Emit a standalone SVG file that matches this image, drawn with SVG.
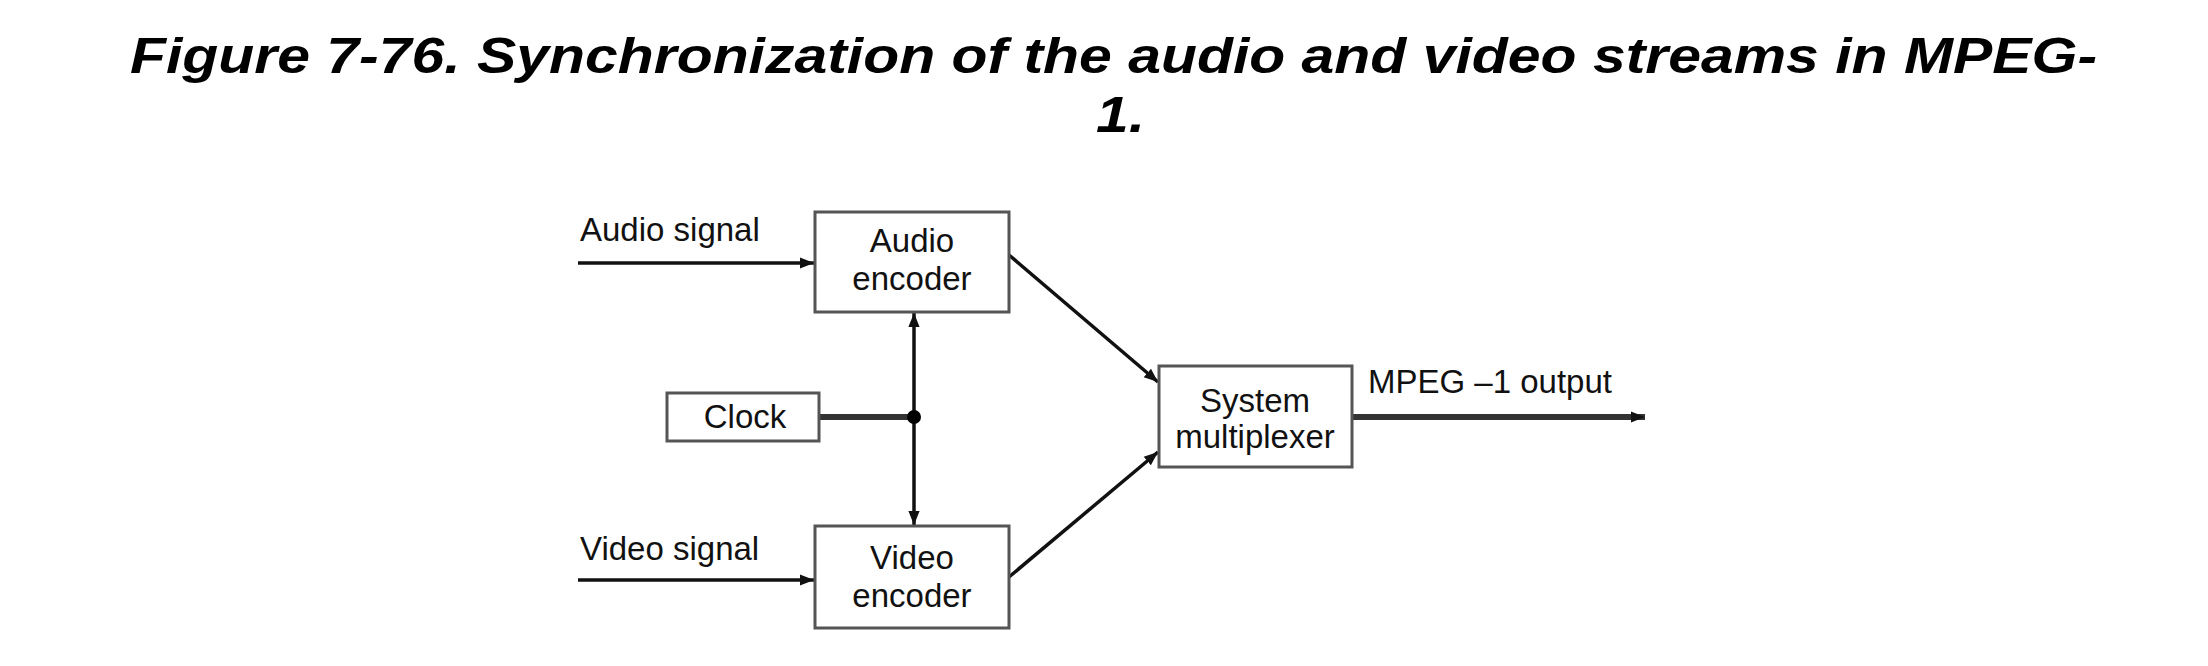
<svg xmlns="http://www.w3.org/2000/svg" width="2208" height="666" viewBox="0 0 2208 666">
<style>
.box{fill:#fff;stroke:#555;stroke-width:3}
.lbl{font-family:"Liberation Sans",Arial,sans-serif;font-size:33px;fill:#111}
.c{text-anchor:middle}
.ln{stroke:#111;stroke-width:3.5;fill:none}
.thick{stroke:#333;stroke-width:6;fill:none}
.title{font-family:"Liberation Sans",Arial,sans-serif;font-size:50px;font-weight:bold;font-style:italic;fill:#000}
</style>
<defs>
<marker id="ah" viewBox="0 0 10 10" refX="10" refY="5" markerWidth="14" markerHeight="14" markerUnits="userSpaceOnUse" orient="auto">
<path d="M0,1 L10,5 L0,9 z" fill="#111"/>
</marker>
</defs>
<rect width="2208" height="666" fill="#fff"/>
<g id="title">
<text class="title" x="130" y="73" textLength="1967" lengthAdjust="spacingAndGlyphs">Figure 7-76. Synchronization of the audio and video streams in MPEG-</text>
<text class="title" x="1096" y="132" textLength="49" lengthAdjust="spacingAndGlyphs">1.</text>
</g>
<g id="connectors">
<line class="ln" x1="578" y1="263" x2="814" y2="263" marker-end="url(#ah)"/>
<line class="ln" x1="578" y1="580" x2="814" y2="580" marker-end="url(#ah)"/>
<line class="thick" x1="819" y1="417" x2="914" y2="417"/>
<line class="ln" x1="914" y1="417" x2="914" y2="313" marker-end="url(#ah)"/>
<line class="ln" x1="914" y1="417" x2="914" y2="525" marker-end="url(#ah)"/>
<circle cx="914" cy="417" r="7" fill="#000"/>
<line class="ln" x1="1009" y1="255" x2="1158" y2="382" marker-end="url(#ah)"/>
<line class="ln" x1="1009" y1="577" x2="1158" y2="452" marker-end="url(#ah)"/>
<line class="thick" x1="1352" y1="417" x2="1645" y2="417" marker-end="url(#ah)"/>
</g>
<g id="audio_signal"><text class="lbl" x="580" y="241">Audio signal</text></g>
<g id="video_signal"><text class="lbl" x="580" y="560">Video signal</text></g>
<g id="audio_encoder">
<rect class="box" x="815" y="212" width="194" height="100"/>
<text class="lbl c" x="912" y="252">Audio</text>
<text class="lbl c" x="912" y="290">encoder</text>
</g>
<g id="video_encoder">
<rect class="box" x="815" y="526" width="194" height="102"/>
<text class="lbl c" x="912" y="569">Video</text>
<text class="lbl c" x="912" y="607">encoder</text>
</g>
<g id="clock">
<rect class="box" x="667" y="393" width="152" height="48"/>
<text class="lbl c" x="745" y="428">Clock</text>
</g>
<g id="system_multiplexer">
<rect class="box" x="1159" y="366" width="193" height="101"/>
<text class="lbl c" x="1255" y="412">System</text>
<text class="lbl c" x="1255" y="448">multiplexer</text>
</g>
<g id="output_label"><text class="lbl" x="1368" y="393">MPEG –1 output</text></g>
</svg>
